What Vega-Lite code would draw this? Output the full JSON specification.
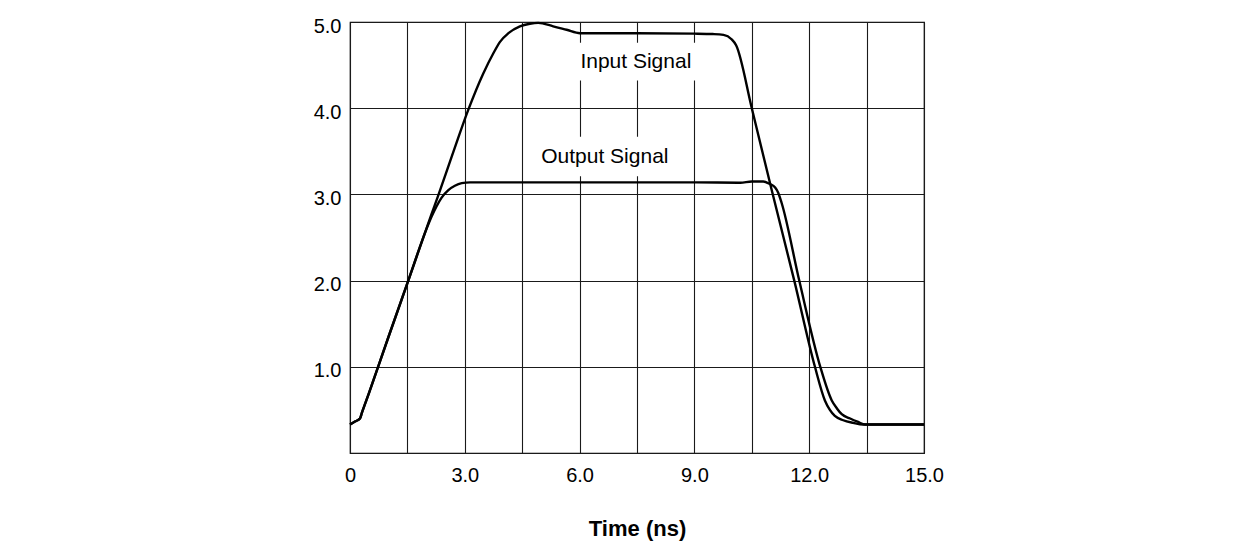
{
  "$schema": "https://vega.github.io/schema/vega-lite/v6.json",
  "width": 574,
  "height": 431,
  "autosize": {"type": "none"},
  "padding": {"left": 350, "top": 22, "right": 327, "bottom": 101},
  "background": "white",
  "config": {
    "font": "Liberation Sans",
    "view": {"stroke": "#000000", "strokeWidth": 1.2},
    "axis": {
      "labelFont": "Liberation Sans",
      "titleFont": "Liberation Sans",
      "labelColor": "#000000",
      "titleColor": "#000000",
      "gridColor": "#1a1a1a",
      "gridOpacity": 1,
      "gridWidth": 1.1,
      "domain": false,
      "ticks": false,
      "labelFlush": false
    }
  },
  "datasets": {
    "signals": [
      {"series": "Input", "t": 0, "v": 0.33},
      {"series": "Input", "t": 0.13, "v": 0.365},
      {"series": "Input", "t": 0.26, "v": 0.40},
      {"series": "Input", "t": 0.31, "v": 0.465},
      {"series": "Input", "t": 0.5, "v": 0.70},
      {"series": "Input", "t": 1.0, "v": 1.34},
      {"series": "Input", "t": 1.5, "v": 1.97},
      {"series": "Input", "t": 2.13, "v": 2.77},
      {"series": "Input", "t": 2.3, "v": 2.98},
      {"series": "Input", "t": 2.66, "v": 3.44},
      {"series": "Input", "t": 3.09, "v": 3.98},
      {"series": "Input", "t": 3.48, "v": 4.40},
      {"series": "Input", "t": 3.75, "v": 4.64},
      {"series": "Input", "t": 3.92, "v": 4.77},
      {"series": "Input", "t": 4.14, "v": 4.87},
      {"series": "Input", "t": 4.44, "v": 4.95},
      {"series": "Input", "t": 4.70, "v": 4.98},
      {"series": "Input", "t": 4.92, "v": 4.99},
      {"series": "Input", "t": 5.31, "v": 4.95},
      {"series": "Input", "t": 5.66, "v": 4.91},
      {"series": "Input", "t": 6.01, "v": 4.87},
      {"series": "Input", "t": 7.5, "v": 4.87},
      {"series": "Input", "t": 9.0, "v": 4.865},
      {"series": "Input", "t": 9.49, "v": 4.86},
      {"series": "Input", "t": 9.76, "v": 4.85},
      {"series": "Input", "t": 9.97, "v": 4.80},
      {"series": "Input", "t": 10.09, "v": 4.73},
      {"series": "Input", "t": 10.5, "v": 4.0},
      {"series": "Input", "t": 11.02, "v": 3.05},
      {"series": "Input", "t": 11.61, "v": 2.0},
      {"series": "Input", "t": 12.15, "v": 1.0},
      {"series": "Input", "t": 12.41, "v": 0.61},
      {"series": "Input", "t": 12.54, "v": 0.50},
      {"series": "Input", "t": 12.67, "v": 0.43},
      {"series": "Input", "t": 12.89, "v": 0.38},
      {"series": "Input", "t": 13.15, "v": 0.35},
      {"series": "Input", "t": 13.41, "v": 0.33},
      {"series": "Input", "t": 14.2, "v": 0.33},
      {"series": "Input", "t": 15, "v": 0.33},
      {"series": "Output", "t": 0, "v": 0.33},
      {"series": "Output", "t": 0.13, "v": 0.365},
      {"series": "Output", "t": 0.26, "v": 0.40},
      {"series": "Output", "t": 0.31, "v": 0.465},
      {"series": "Output", "t": 0.5, "v": 0.70},
      {"series": "Output", "t": 1.0, "v": 1.34},
      {"series": "Output", "t": 1.5, "v": 1.97},
      {"series": "Output", "t": 2.0, "v": 2.60},
      {"series": "Output", "t": 2.13, "v": 2.74},
      {"series": "Output", "t": 2.26, "v": 2.86},
      {"series": "Output", "t": 2.39, "v": 2.96},
      {"series": "Output", "t": 2.57, "v": 3.05},
      {"series": "Output", "t": 2.74, "v": 3.10},
      {"series": "Output", "t": 2.92, "v": 3.13},
      {"series": "Output", "t": 3.14, "v": 3.14},
      {"series": "Output", "t": 6.0, "v": 3.14},
      {"series": "Output", "t": 9.0, "v": 3.14},
      {"series": "Output", "t": 10.2, "v": 3.135},
      {"series": "Output", "t": 10.5, "v": 3.15},
      {"series": "Output", "t": 10.8, "v": 3.15},
      {"series": "Output", "t": 10.97, "v": 3.12},
      {"series": "Output", "t": 11.11, "v": 3.08},
      {"series": "Output", "t": 11.19, "v": 3.02},
      {"series": "Output", "t": 11.28, "v": 2.90},
      {"series": "Output", "t": 11.74, "v": 2.0},
      {"series": "Output", "t": 12.29, "v": 1.0},
      {"series": "Output", "t": 12.59, "v": 0.61},
      {"series": "Output", "t": 12.72, "v": 0.52},
      {"series": "Output", "t": 12.85, "v": 0.45},
      {"series": "Output", "t": 13.07, "v": 0.40},
      {"series": "Output", "t": 13.28, "v": 0.36},
      {"series": "Output", "t": 13.46, "v": 0.33},
      {"series": "Output", "t": 14.2, "v": 0.33},
      {"series": "Output", "t": 15, "v": 0.33}
    ],
    "labels": [
      {"text": "Input Signal", "t": 7.47, "v": 4.54, "t0": 5.85, "t1": 9.2, "v0": 4.32, "v1": 4.76},
      {"text": "Output Signal", "t": 6.66, "v": 3.43, "t0": 4.75, "t1": 8.6, "v0": 3.21, "v1": 3.67}
    ]
  },
  "layer": [
    {
      "data": {"name": "labels"},
      "mark": {"type": "rect", "fill": "white", "stroke": null},
      "encoding": {
        "x": {"field": "t0", "type": "quantitative", "scale": {"domain": [0, 15]}},
        "x2": {"field": "t1"},
        "y": {"field": "v0", "type": "quantitative", "scale": {"domain": [0, 5]}},
        "y2": {"field": "v1"}
      }
    },
    {
      "data": {"name": "signals"},
      "mark": {"type": "line", "color": "#000000", "strokeWidth": 2.4, "interpolate": "monotone", "strokeJoin": "round"},
      "encoding": {
        "x": {
          "field": "t",
          "type": "quantitative",
          "scale": {"domain": [0, 15], "nice": false},
          "axis": {
            "values": [0, 1.5, 3, 4.5, 6, 7.5, 9, 10.5, 12, 13.5, 15],
            "labelExpr": "datum.value == 0 ? '0' : (datum.value % 3 == 0 ? format(datum.value, '.1f') : '')",
            "labelFontSize": 20,
            "labelPadding": 12,
            "title": "Time (ns)",
            "titleFontSize": 22,
            "titleFontWeight": "bold",
            "titlePadding": 33
          }
        },
        "y": {
          "field": "v",
          "type": "quantitative",
          "scale": {"domain": [0, 5], "nice": false},
          "axis": {
            "values": [0, 1, 2, 3, 4, 5],
            "labelExpr": "datum.value == 0 ? '' : format(datum.value, '.1f')",
            "labelFontSize": 20,
            "labelPadding": 9,
            "labelOffset": 4,
            "title": null
          }
        },
        "detail": {"field": "series"}
      }
    },
    {
      "data": {"name": "labels"},
      "mark": {"type": "text", "fontSize": 21, "color": "#000000", "font": "Liberation Sans"},
      "encoding": {
        "x": {"field": "t", "type": "quantitative"},
        "y": {"field": "v", "type": "quantitative"},
        "text": {"field": "text"}
      }
    }
  ]
}
